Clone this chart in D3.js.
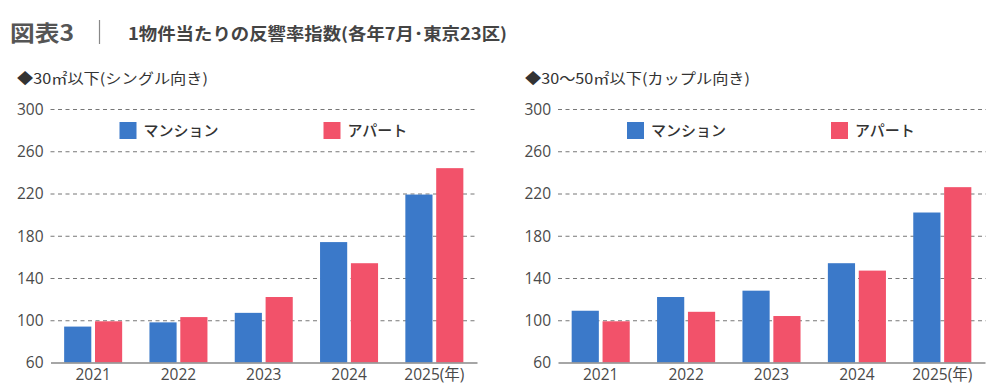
<!DOCTYPE html>
<html><head><meta charset="utf-8">
<script src="https://cdn.jsdelivr.net/npm/d3@7"></script>
<style>
body{margin:0;background:#fff;}
svg{display:block;font-family:"Noto Sans CJK JP","Noto Sans",sans-serif;}
</style></head>
<body><svg id="c" width="997" height="390"></svg>
<script>
const categories = ["2021","2022","2023","2024","2025(年)"];
const seriesNames = ["マンション","アパート"];
const singleMansion = [94, 98, 107, 174, 219];
const singleApart   = [99, 103, 122, 154, 244];
const coupleMansion = [109, 122, 128, 154, 202];
const coupleApart   = [99, 108, 104, 147, 226];
const yTicks = [60, 100, 140, 180, 220, 260, 300];
const colors = ["#3b79c9", "#f2526a"];

const svg = d3.select("#c");
const textCol = "#4a4a4a";

// Title
svg.append("text").attr("x",10).attr("y",41).attr("font-size",22).attr("font-weight",700)
  .attr("fill","#555").attr("textLength",64).attr("lengthAdjust","spacingAndGlyphs").text("図表3");
svg.append("line").attr("x1",99.5).attr("x2",99.5).attr("y1",20).attr("y2",44)
  .attr("stroke","#888").attr("stroke-width",1.2);
svg.append("text").attr("x",128).attr("y",39.5).attr("font-size",16.5).attr("font-weight",700)
  .attr("fill","#444").attr("textLength",379).attr("lengthAdjust","spacingAndGlyphs")
  .text("1物件当たりの反響率指数(各年7月･東京23区)");

function panel(x0, x1, subtitle, subX, subW, dataA, dataB) {
  const y = d3.scaleLinear().domain([60,300]).range([362.5,109]);
  const x = d3.scaleBand().domain(categories).range([x0,x1]).paddingInner(0.32).paddingOuter(0.16);
  const xs = d3.scaleBand().domain(seriesNames).range([0,x.bandwidth()]).paddingInner(0.12);
  const g = svg.append("g");

  g.append("text").attr("x",subX).attr("y",84).attr("font-size",14.5).attr("fill","#333")
    .attr("textLength",subW).attr("lengthAdjust","spacingAndGlyphs").text(subtitle);

  // grid
  const grid = g.append("g").attr("transform",`translate(${x0},0)`)
    .call(d3.axisLeft(y).tickValues(yTicks.slice(1)).tickSize(-(x1-x0+1)).tickFormat(""));
  grid.select(".domain").remove();
  grid.selectAll("line").attr("stroke","#777").attr("stroke-dasharray","4,3.5").attr("stroke-width",1);

  // y labels
  const ya = g.append("g").attr("transform",`translate(${x0-7},0)`)
    .call(d3.axisLeft(y).tickValues(yTicks).tickSize(0).tickPadding(0));
  ya.select(".domain").remove();
  ya.selectAll("text").attr("font-size",15.5).attr("fill",textCol)
    .attr("font-family","'Open Sans','Noto Sans',sans-serif").attr("dy","0.35em");

  // bars
  const rows = categories.map((c,i)=>({c, v:[dataA[i], dataB[i]]}));
  const grp = g.selectAll(".grp").data(rows).join("g").attr("transform",d=>`translate(${x(d.c)},0)`);
  grp.selectAll("rect").data(d=>d.v.map((v,j)=>({s:seriesNames[j], v, j}))).join("rect")
    .attr("x",d=>xs(d.s)).attr("width",xs.bandwidth())
    .attr("y",d=>y(d.v)).attr("height",d=>y(60)-y(d.v))
    .attr("fill",d=>colors[d.j]);

  // x axis
  const xa = g.append("g").attr("transform",`translate(0,${y(60)})`)
    .call(d3.axisBottom(x).tickSize(0).tickPadding(6));
  xa.select(".domain").attr("stroke","#888").attr("stroke-width",1.3);
  xa.selectAll("text").attr("font-size",15.5).attr("fill",textCol)
    .attr("font-family","'Open Sans','Noto Sans CJK JP',sans-serif");

  // legend
  const lg = [ {s:seriesNames[0], c:colors[0], dx:69}, {s:seriesNames[1], c:colors[1], dx:273} ];
  lg.forEach(l=>{
    g.append("rect").attr("x",x0+l.dx).attr("y",122).attr("width",17).attr("height",17).attr("fill",l.c);
    g.append("text").attr("x",x0+l.dx+24).attr("y",136).attr("font-size",15).attr("font-weight",500)
      .attr("fill","#333").text(l.s);
  });
}

panel(50.5, 477, "◆30㎡以下(シングル向き)", 17, 191, singleMansion, singleApart);
panel(558, 985, "◆30～50㎡以下(カップル向き)", 525, 225, coupleMansion, coupleApart);
</script></body></html>
